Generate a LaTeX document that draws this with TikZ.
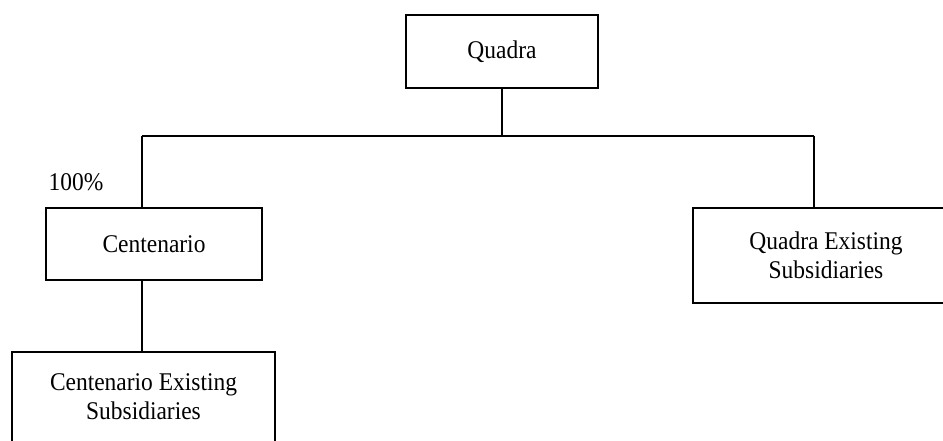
\documentclass[tikz,border=0pt]{standalone}
\usepackage{fontspec}
\setmainfont{Liberation Serif}[FakeStretch=0.92]
\begin{document}
\begin{tikzpicture}[x=1pt,y=-1pt,
  box/.style={draw=black,line width=2pt,inner sep=0pt,align=center,
    font=\fontsize{25.5}{29}\selectfont},
  conn/.style={draw=black,line width=2pt},
  lbl/.style={inner sep=0pt,font=\fontsize{25.5}{29}\selectfont}]
\path[use as bounding box,clip] (0,0) rectangle (943,441);
\node[box,minimum width=192pt,minimum height=73pt] (quadra) at (502,51.5) {Quadra};
\node[box,minimum width=216pt,minimum height=72pt] (cent) at (154,244) {Centenario};
\node[box,minimum width=263pt,minimum height=90pt] (ces) at (143.5,397) {Centenario Existing\\Subsidiaries};
\node[box,minimum width=266pt,minimum height=95pt] (qes) at (826,255.5) {Quadra Existing\\Subsidiaries};
\node[lbl] (pct) at (76,182) {100\%};
\coordinate (j) at (502,136);
\coordinate (cl) at (142,136);
\coordinate (cr) at (814,136);
\draw[conn] (quadra.south) -- (j);
\draw[conn] (cl) -- (cr);
\draw[conn] (cl) -- (cl |- cent.north);
\draw[conn] (cr) -- (cr |- qes.north);
\draw[conn] (cl |- cent.south) -- (cl |- ces.north);
\end{tikzpicture}
\end{document}
